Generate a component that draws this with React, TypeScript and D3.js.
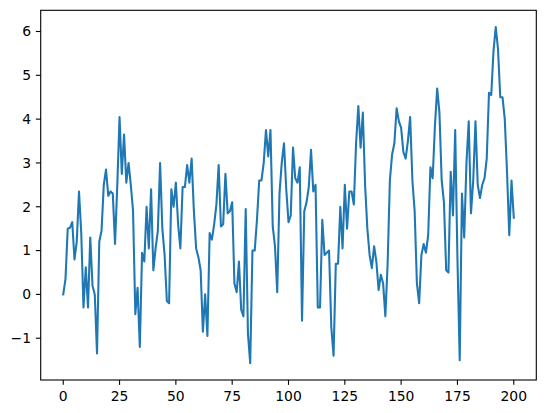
import React, { useEffect } from 'react';
import * as d3 from 'd3';

// series values, one per step (x = 0..200)
const values: number[] = [
  0.0, 0.35, 1.5, 1.52, 1.65, 0.8, 1.2, 2.35, 1.4, -0.3,
  0.62, -0.3, 1.3, 0.2, 0.0, -1.35, 1.2, 1.45, 2.5, 2.85,
  2.25, 2.35, 2.3, 1.15, 2.5, 4.05, 2.75, 3.65, 2.55, 3.0,
  2.5, 1.9, -0.45, 0.15, -1.2, 0.95, 0.75, 2.0, 1.05, 2.4,
  0.55, 1.05, 1.45, 3.0, 1.5, 0.9, -0.15, -0.2, 2.4, 2.0,
  2.55, 1.6, 1.05, 2.45, 2.45, 2.95, 2.55, 3.1, 1.9, 1.05,
  0.85, 0.55, -0.85, 0.0, -0.95, 1.4, 1.25, 1.6, 2.05, 2.95,
  1.55, 1.6, 2.75, 1.85, 1.9, 2.1, 0.25, 0.05, 0.75, -0.35,
  -0.5, 1.95, -0.9, -1.57, 1.0, 1.0, 1.7, 2.6, 2.6, 3.0,
  3.75, 3.15, 3.75, 1.55, 1.1, 0.05, 2.3, 3.0, 3.45, 2.4,
  1.65, 1.8, 3.35, 2.65, 2.55, 2.9, -0.6, 1.9, 2.1, 2.45,
  3.3, 2.35, 2.5, -0.3, -0.3, 1.7, 0.9, 0.95, 1.0, -0.75,
  -1.4, 0.7, 0.7, 2.0, 1.05, 2.5, 1.5, 2.35, 2.35, 2.05,
  3.45, 4.3, 3.35, 4.15, 2.5, 1.5, 0.9, 0.6, 1.1, 0.75,
  0.1, 0.45, 0.25, -0.5, 0.7, 2.6, 3.2, 3.45, 4.25, 3.95,
  3.8, 3.25, 3.1, 3.5, 4.05, 2.6, 1.9, 0.25, -0.2, 0.9,
  1.15, 0.95, 1.35, 2.9, 2.65, 3.85, 4.7, 4.15, 2.6, 2.1,
  0.55, 0.5, 2.8, 1.8, 3.75, 0.8, -1.5, 2.3, 1.3, 3.0,
  3.95, 1.85, 2.6, 3.95, 2.5, 2.2, 2.5, 2.65, 3.1, 4.6,
  4.55, 5.55, 6.1, 5.6, 4.5, 4.5, 4.0, 2.8, 1.35, 2.6,
  1.75,
];
const xTicks = [0, 25, 50, 75, 100, 125, 150, 175, 200];
const yTicks = [-1, 0, 1, 2, 3, 4, 5, 6];

const W = 546, H = 413;
const margin = { left: 40.7, top: 10.3, right: 9.7, bottom: 33 };
const fmt = (v: number) => (v < 0 ? '\u2212' + Math.abs(v) : String(v));

export default function App() {
  useEffect(() => { document.body.style.margin = '0'; }, []);

  const innerW = W - margin.left - margin.right;
  const innerH = H - margin.top - margin.bottom;
  const n = values.length - 1;
  const xPad = n * 0.05;
  const x = d3.scaleLinear().domain([-xPad, n + xPad]).range([0, innerW]);
  const [lo, hi] = d3.extent(values) as [number, number];
  const yPad = (hi - lo) * 0.05;
  const y = d3.scaleLinear().domain([lo - yPad, hi + yPad]).range([innerH, 0]);
  const line = d3.line<number>().x((_, i) => x(i)).y(d => y(d));

  const font = { fontFamily: 'DejaVu Sans', fontSize: 13.9, fill: '#000' };

  return (
    <svg width={W} height={H} style={{ display: 'block', background: '#fff' }}>
      <g transform={`translate(${margin.left},${margin.top})`}>
        <path d={line(values) || ''} fill="none" stroke="#1f77b4" strokeWidth={2.08}
          strokeLinejoin="round" strokeLinecap="square" />

        {/* X axis ticks */}
        {xTicks.map(t => (
          <g key={t} transform={`translate(${x(t)},${innerH})`}>
            <line y2={4.86} stroke="#000" strokeWidth={1.1} />
            <text y={4.86 + 4.86 + 11} textAnchor="middle" style={font}>{fmt(t)}</text>
          </g>
        ))}

        {/* Y axis ticks */}
        {yTicks.map(t => (
          <g key={t} transform={`translate(0,${y(t)})`}>
            <line x2={-4.86} stroke="#000" strokeWidth={1.1} />
            <text x={-4.86 - 4.86} dy="0.35em" textAnchor="end" style={font}>{fmt(t)}</text>
          </g>
        ))}

        {/* frame */}
        <rect width={innerW} height={innerH} fill="none" stroke="#000" strokeWidth={1.1} />
      </g>
    </svg>
  );
}
